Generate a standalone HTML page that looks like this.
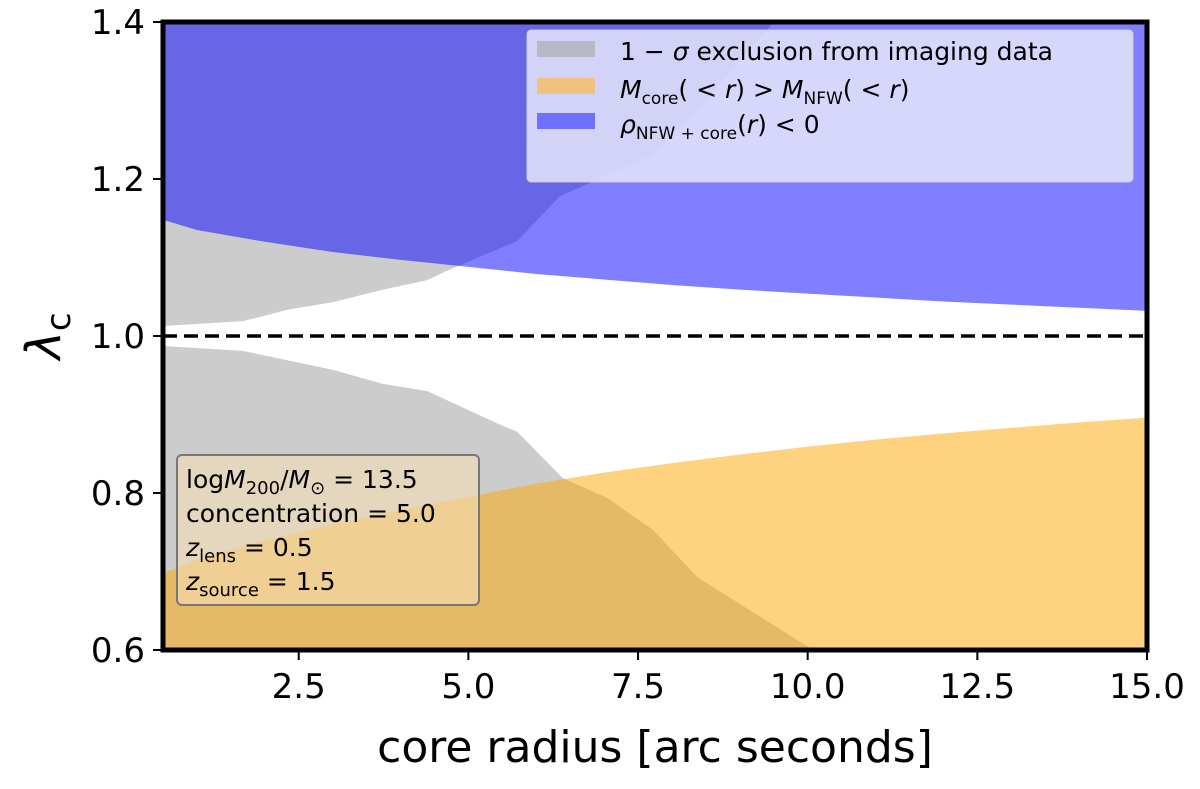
<!DOCTYPE html>
<html><head><meta charset="utf-8"><style>
body{margin:0;background:#fff}
svg text{font-family:"DejaVu Sans","Liberation Sans",sans-serif}
</style></head><body>
<svg id="c" width="1200" height="784" viewBox="0 0 1200 784"></svg>
<script>
const xTicks=[2.5,5.0,7.5,10.0,12.5,15.0];
const yTicks=[0.6,0.8,1.0,1.2,1.4];
const blueX=[0.5,1,2,3,4,5,6,7,8,9,10,11,12,13,14,15];
const blueLow=[1.148,1.135,1.12,1.107,1.097,1.088,1.079,1.072,1.065,1.059,1.054,1.049,1.044,1.04,1.036,1.032];
const grayUpX=[0.5,0.56,1.68,2.37,3.0,3.74,4.39,4.68,5.72,6.35,7.68,8.5,9.5];
const grayUpLow=[1.012,1.013,1.019,1.034,1.043,1.059,1.071,1.083,1.121,1.178,1.229,1.3,1.4];
const grayLoX=[0.5,0.56,1.68,3.0,3.74,4.39,5.47,5.72,6.39,7.04,7.72,8.37,10.08];
const grayLoHigh=[0.988,0.987,0.981,0.957,0.939,0.930,0.887,0.878,0.819,0.794,0.753,0.693,0.6];
const orX=[0.5,1,2,3,4,5,6,7,8,9,10,11,12,13,14,15];
const orHigh=[0.698,0.715,0.74,0.76,0.778,0.795,0.812,0.826,0.838,0.849,0.859,0.868,0.876,0.883,0.89,0.896];
const L=163,R=1147,T=22,B=650,X0=0.5,X1=15,Y0=0.6,Y1=1.4;
const sx=v=>L+(v-X0)/(X1-X0)*(R-L), sy=v=>B-(v-Y0)/(Y1-Y0)*(B-T);
const svg=document.getElementById('c');const NS='http://www.w3.org/2000/svg';
function mk(t,a,p){const e=document.createElementNS(NS,t);for(const k in a)e.setAttribute(k,a[k]);(p||svg).appendChild(e);return e;}
function band(xs,ys,edge,fill,op,name){
  let d='M'+sx(xs[0])+','+sy(edge);
  xs.forEach((x,i)=>d+='L'+sx(x)+','+sy(ys[i]));
  d+='L'+sx(xs[xs.length-1])+','+sy(edge)+'Z';
  const p=mk('path',{d:d,fill:fill,'fill-opacity':op});
  
  
}
const cp=mk('clipPath',{id:'cp'});mk('rect',{x:L,y:T,width:R-L,height:B-T},cp);
const g=mk('g',{'clip-path':'url(#cp)'});
function band2(xs,ys,edge,fill,op,name){
  let d='M'+sx(xs[0])+','+sy(edge);
  xs.forEach((x,i)=>d+='L'+sx(x)+','+sy(ys[i]));
  d+='L'+sx(xs[xs.length-1])+','+sy(edge)+'Z';
  const p=mk('path',{d:d,fill:fill,'fill-opacity':op},g);
  
  
}
band2(grayUpX,grayUpLow,1.4,'#cccccc',1,'gray-exclusion-upper');
band2(grayLoX,grayLoHigh,0.6,'#cccccc',1,'gray-exclusion-lower');
band2(orX,orHigh,0.6,'#ffa500',0.5,'orange-mass-region');
band2(blueX,blueLow,1.4,'#0000ff',0.5,'blue-density-region');
const dl=mk('line',{x1:L,x2:R,y1:sy(1.0),y2:sy(1.0),stroke:'#000','stroke-width':3.5,'stroke-dasharray':'14,7'});

xTicks.forEach(v=>{mk('line',{x1:sx(v),x2:sx(v),y1:B,y2:B+10,stroke:'#000','stroke-width':2});
 const t=mk('text',{x:sx(v),y:B+48,'font-size':34,'text-anchor':'middle'});t.textContent=v.toFixed(1);
 });
yTicks.forEach(v=>{mk('line',{x1:L-10,x2:L,y1:sy(v),y2:sy(v),stroke:'#000','stroke-width':2});
 const t=mk('text',{x:L-18,y:sy(v)+12,'font-size':34,'text-anchor':'end'});t.textContent=v.toFixed(1);
 });
const fr=mk('rect',{x:L,y:T,width:R-L,height:B-T,fill:'none',stroke:'#000','stroke-width':5});

</script>
<svg width="1200" height="784" style="position:absolute;left:0;top:0">
<text x="655" y="762" font-size="44" text-anchor="middle" font-family="DejaVu Sans,sans-serif">core radius [arc seconds]</text>
<text transform="translate(60,336) rotate(-90)" font-size="48" text-anchor="middle" font-family="DejaVu Sans,sans-serif" font-style="italic">λ<tspan font-size="34" dy="10" font-style="normal">c</tspan></text>
<g font-family="DejaVu Sans,sans-serif" font-size="25">
<rect x="527" y="30" width="606" height="152" rx="4" fill="#e6e6fa" fill-opacity="0.85" stroke="#ccc"/>
<rect x="537" y="41" width="58" height="16" fill="#b8b8c8"/>
<text x="620" y="60">1 − <tspan font-style="italic">σ</tspan> exclusion from imaging data</text>
<rect x="537" y="78" width="58" height="16" fill="#efc27d"/>
<text x="620" y="98"><tspan font-style="italic">M</tspan><tspan font-size="17" dy="6">core</tspan><tspan dy="-6">( &lt; </tspan><tspan font-style="italic">r</tspan>) &gt; <tspan font-style="italic">M</tspan><tspan font-size="17" dy="6">NFW</tspan><tspan dy="-6">( &lt; </tspan><tspan font-style="italic">r</tspan>)</text>
<rect x="537" y="113" width="58" height="16" fill="#7070ff"/>
<text x="620" y="133"><tspan font-style="italic">ρ</tspan><tspan font-size="17" dy="6">NFW + core</tspan><tspan dy="-6">(</tspan><tspan font-style="italic">r</tspan>) &lt; 0</text>
</g>
<g font-family="DejaVu Sans,sans-serif" font-size="25">
<rect x="177" y="455" width="302" height="150" rx="5" fill="#f5deb3" fill-opacity="0.6" stroke="#777" stroke-width="2"/>
<text x="186" y="488">log<tspan font-style="italic">M</tspan><tspan font-size="18" dy="6">200</tspan><tspan dy="-6">/</tspan><tspan font-style="italic">M</tspan><tspan font-size="18" dy="6">⊙</tspan><tspan dy="-6"> = 13.5</tspan></text>
<text x="186" y="522">concentration = 5.0</text>
<text x="186" y="556"><tspan font-style="italic">z</tspan><tspan font-size="18" dy="6">lens</tspan><tspan dy="-6"> = 0.5</tspan></text>
<text x="186" y="590"><tspan font-style="italic">z</tspan><tspan font-size="18" dy="6">source</tspan><tspan dy="-6"> = 1.5</tspan></text>
</g>
</svg>
</body></html>
